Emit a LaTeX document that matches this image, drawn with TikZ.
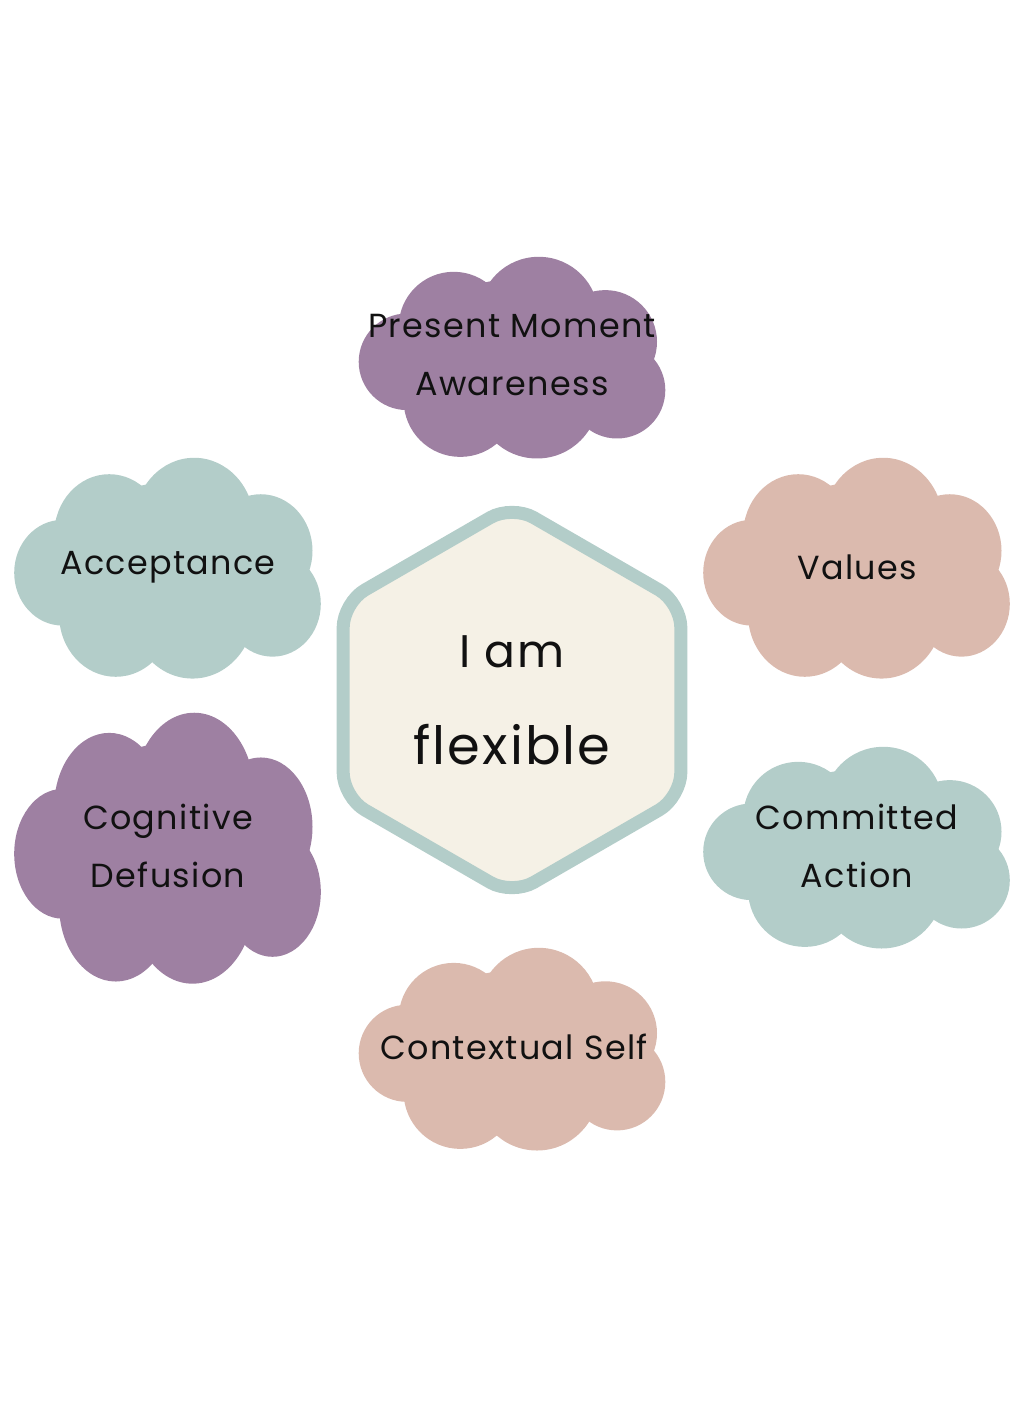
\documentclass[tikz,border=0pt]{standalone}
\usepackage{fontspec}
\setmainfont[LetterSpace=4]{Poppins}
\usetikzlibrary{shapes.geometric}
\definecolor{cloudPlum}{HTML}{9E80A2}
\definecolor{cloudSage}{HTML}{B3CDC9}
\definecolor{cloudClay}{HTML}{DBBAAE}
\definecolor{hubFill}{HTML}{F5F1E6}
\definecolor{inkBlack}{HTML}{111111}

% cloud: centre, height in px, colour
\newcommand{\puff}[3]{%
  \begin{scope}[shift={#1}, yscale=#2/201]
    \fill[#3] (0,0) circle[x radius=100, y radius=78];
    \foreach \cx/\cy/\r in {-105/4.3/48.3, -58.3/-30.7/55, 26.7/-40.7/60,
                            93.3/-15.7/51.7, 105/32.7/48.3, -51.7/42.7/56.7, 25/39.3/61.7}
      \fill[#3] (\cx,\cy) circle[radius=\r];
  \end{scope}}

\begin{document}
\begin{tikzpicture}[x=0.02cm, y=-0.02cm,
    lbl/.style={align=center, text=inkBlack, inner sep=0pt,
                font=\fontsize{19}{33}\selectfont},
    hub/.style={regular polygon, regular polygon sides=6, shape border rotate=30,
                minimum size=7.8cm, inner sep=0pt, draw=cloudSage, line width=7.4pt,
                fill=hubFill, rounded corners=0.5cm, align=center, text=inkBlack}]
  \useasboundingbox (0,0) rectangle (1024,1408);

  % clouds
  \puff{(512,357.5)}{201}{cloudPlum}
  \puff{(167.5,568)}{220}{cloudSage}
  \puff{(856.5,568)}{220}{cloudClay}
  \puff{(167.5,848)}{270}{cloudPlum}
  \puff{(856.5,847.5)}{201}{cloudSage}
  \puff{(512,1049)}{202}{cloudClay}

  \node[lbl] (pma) at (512,355) {Present Moment\\Awareness};
  \node[lbl] (acc) at (168,567) {Acceptance};
  \node[lbl] (val) at (857,567) {Values};
  \node[lbl] (cdf) at (168,846) {Cognitive\\Defusion};
  \node[lbl] (cma) at (857,846) {Committed\\Action};
  \node[lbl] (ctx) at (514,1047) {Contextual Self};

  % centre
  \node[hub] (hub) at (512,700)
    {{\fontsize{26}{30}\selectfont I am}\\[31pt]{\fontsize{30}{34}\selectfont flexible}};
\end{tikzpicture}
\end{document}
